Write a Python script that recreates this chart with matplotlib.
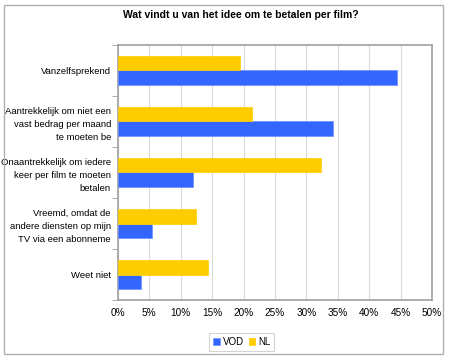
import matplotlib
matplotlib.use('Agg')
import matplotlib.pyplot as plt
from matplotlib.patches import Rectangle
from matplotlib.ticker import FixedLocator, PercentFormatter
import numpy as np

plt.rcParams['font.family'] = ['Liberation Sans', 'DejaVu Sans']

categories = [
    'Vanzelfsprekend',
    'Aantrekkelijk om niet een\nvast bedrag per maand\nte moeten be',
    'Onaantrekkelijk om iedere\nkeer per film te moeten\nbetalen',
    'Vreemd, omdat de\nandere diensten op mijn\nTV via een abonneme',
    'Weet niet',
]
vod = [44.5, 34.3, 12.0, 5.5, 3.7]
nl = [19.4, 21.4, 32.3, 12.5, 14.4]
x_ticks = [0, 5, 10, 15, 20, 25, 30, 35, 40, 45, 50]

BLUE = '#3366FF'
YELLOW = '#FFCC00'
GRID = '#D9D9D9'
FRAME = '#A0A0A0'

fig = plt.figure(figsize=(4.5, 3.59), dpi=100)
ax = fig.add_axes([0.262, 0.164, 0.698, 0.711])

# outer border of the chart
fig.patches.append(Rectangle((0.009, 0.014), 0.976, 0.972, transform=fig.transFigure,
                             fill=False, edgecolor='#B0B0B0', linewidth=1))

y = np.arange(len(categories))
h = 0.29
ax.barh(y + h / 2, vod, height=h, color=BLUE, edgecolor='#6E8FFF', linewidth=0.5, label='VOD', zorder=3)
ax.barh(y - h / 2, nl, height=h, color=YELLOW, edgecolor=YELLOW, linewidth=0.5, label='NL', zorder=3)

ax.set_xlim(0, 50)
ax.set_ylim(len(categories) - 0.5, -0.5)
ax.set_xticks(x_ticks)
ax.xaxis.set_major_formatter(PercentFormatter(decimals=0))
ax.set_yticks(y)
ax.set_yticklabels(categories, fontsize=6.8, ha='right', linespacing=1.55)
ax.tick_params(axis='y', length=0, pad=5)
ax.yaxis.set_minor_locator(FixedLocator(np.arange(-0.5, len(categories), 1.0)))
ax.tick_params(axis='y', which='minor', length=4, color=FRAME)
ax.tick_params(axis='x', length=0, labelsize=7.2, pad=6)

ax.grid(axis='x', color=GRID, linewidth=0.8, zorder=0)
for s in ax.spines.values():
    s.set_color(FRAME)
    s.set_linewidth(1.2)

fig.text(0.535, 0.958, 'Wat vindt u van het idee om te betalen per film?',
         ha='center', va='center', fontsize=7.5, fontweight='bold')

handles, labels = ax.get_legend_handles_labels()
leg = fig.legend(handles, labels, loc='center', bbox_to_anchor=(0.537, 0.048), ncol=2,
                 fontsize=7, frameon=True, fancybox=False, edgecolor='#C8C8C8',
                 handlelength=0.7, handleheight=0.7, handletextpad=0.3, columnspacing=0.5,
                 borderpad=0.4, borderaxespad=0)
leg.get_frame().set_linewidth(0.8)

plt.savefig('out.png', dpi=100)
